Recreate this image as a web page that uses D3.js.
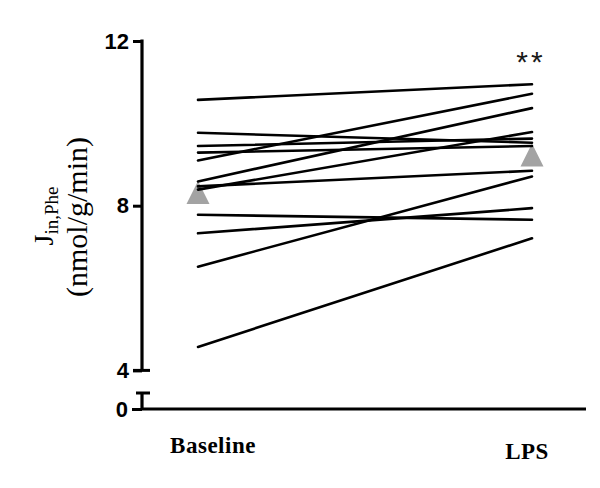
<!DOCTYPE html>
<html>
<head>
<meta charset="utf-8">
<script src="https://cdn.jsdelivr.net/npm/d3@7"></script>
<style>
  body { margin: 0; background: #fff; }
</style>
</head>
<body>
<div id="chart"></div>
<script>
// paired values (nmol/g/min)
var groups = ["Baseline", "LPS"];
var baseline = [10.57, 9.77, 9.45, 9.29, 9.10, 8.59, 8.47, 8.39, 7.78, 7.33, 6.52, 4.57];
var lps      = [10.95, 9.53, 9.63, 9.45, 10.72, 10.37, 8.85, 9.79, 7.66, 7.94, 8.71, 7.21];
var yTicks = [4, 8, 12];

var svgWidth = 600, svgHeight = 488;
var svg = d3.select("#chart").append("svg")
    .attr("width", svgWidth).attr("height", svgHeight);

var axisX = 142;   // y axis position
var zeroY = 409;   // where 0 sits below the break

// x scale: one point for each group
var xScale = d3.scalePoint().domain(groups).range([198, 532]);
// upper y segment 4..12, lower segment just holds 0
var yScale = d3.scaleLinear().domain([4, 12]).range([370.4, 41]);
var yLow = d3.scaleLinear().domain([0, 1]).range([zeroY, zeroY - 40]);

var means = groups.map((g, i) => ({ g: g, v: d3.mean(i === 0 ? baseline : lps) }));

// mean triangles (drawn below the lines)
svg.append("g").selectAll("path")
    .data(means)
    .enter()
    .append("path")
    .attr("d", "M0,-11.5L11.5,11.5L-11.5,11.5Z")
    .attr("transform", d => `translate(${xScale(d.g)},${yScale(d.v)})`)
    .attr("fill", "#a3a3a3");

// one line per subject
svg.append("g").selectAll("line")
    .data(baseline.map((b, i) => [b, lps[i]]))
    .enter()
    .append("line")
    .attr("x1", xScale(groups[0]))
    .attr("x2", xScale(groups[1]))
    .attr("y1", d => yScale(d[0]))
    .attr("y2", d => yScale(d[1]))
    .attr("stroke", "#000")
    .attr("stroke-width", 2.6)
    .attr("stroke-linecap", "round");

// y axis, upper part
var leftAxis = d3.axisLeft(yScale).tickValues(yTicks).tickFormat(d3.format("d"))
    .tickSize(9).tickSizeOuter(0).tickPadding(4);
var yAxisG = svg.append("g")
    .attr("transform", `translate(${axisX},0)`)
    .call(leftAxis);
yAxisG.select(".domain").attr("stroke-width", 3.2).attr("d", `M0,${yScale(4)}V${yScale(12) - 1.5}`);
yAxisG.selectAll(".tick line").attr("stroke-width", 3);
yAxisG.selectAll("text")
    .style("font-family", "Liberation Sans, Arial, sans-serif")
    .style("font-weight", "bold")
    .style("font-size", "22px")
    .attr("fill", "#000");
// cap at the break
yAxisG.append("line")
    .attr("x1", -9).attr("x2", 8)
    .attr("y1", yScale(4)).attr("y2", yScale(4))
    .attr("stroke", "#000").attr("stroke-width", 3);

// y axis, lower part with 0
var lowAxis = d3.axisLeft(yLow).tickValues([0]).tickFormat(d3.format("d"))
    .tickSize(10).tickSizeOuter(0).tickPadding(4);
var lowG = svg.append("g")
    .attr("transform", `translate(${axisX},0)`)
    .call(lowAxis);
lowG.select(".domain").attr("stroke-width", 3.2).attr("d", `M0,${zeroY}V${yLow(0.4)}`);
lowG.selectAll(".tick line").attr("stroke-width", 3);
lowG.selectAll("text")
    .style("font-family", "Liberation Sans, Arial, sans-serif")
    .style("font-weight", "bold")
    .style("font-size", "22px")
    .attr("fill", "#000");
lowG.append("line")
    .attr("x1", -6).attr("x2", 8)
    .attr("y1", yLow(0.4)).attr("y2", yLow(0.4))
    .attr("stroke", "#000").attr("stroke-width", 3);

// x axis line
svg.append("line")
    .attr("x1", axisX).attr("x2", 586)
    .attr("y1", zeroY).attr("y2", zeroY)
    .attr("stroke", "#000").attr("stroke-width", 3.2);

// group labels
var labelShift = { "Baseline": 15, "LPS": -5 };
var labelY = { "Baseline": 453, "LPS": 459 };
svg.append("g").selectAll("text")
    .data(groups)
    .enter()
    .append("text")
    .attr("x", d => xScale(d) + labelShift[d])
    .attr("y", d => labelY[d])
    .attr("text-anchor", "middle")
    .style("font-family", "Liberation Serif, Times New Roman, serif")
    .style("font-weight", "bold")
    .style("font-size", "23px")
    .style("letter-spacing", "0.5px")
    .text(d => d);

// significance
svg.append("text")
    .attr("x", xScale("LPS") - 1)
    .attr("y", 72)
    .attr("text-anchor", "middle")
    .style("font-family", "Liberation Sans, Arial, sans-serif")
    .style("font-size", "30px")
    .style("letter-spacing", "3px")
    .attr("fill", "#1a1a1a")
    .text("**");

// y label
var yLab1 = svg.append("text")
    .attr("transform", "translate(53,216) rotate(-90)")
    .attr("text-anchor", "middle")
    .style("font-family", "Liberation Serif, Times New Roman, serif")
    .style("font-size", "28px");
yLab1.append("tspan").text("J");
yLab1.append("tspan").attr("dy", 5).style("font-size", "19px").text("in,Phe");

svg.append("text")
    .attr("transform", "translate(87,217) rotate(-90)")
    .attr("text-anchor", "middle")
    .style("font-family", "Liberation Serif, Times New Roman, serif")
    .style("font-size", "30px")
    .text("(nmol/g/min)");
</script>
</body>
</html>
